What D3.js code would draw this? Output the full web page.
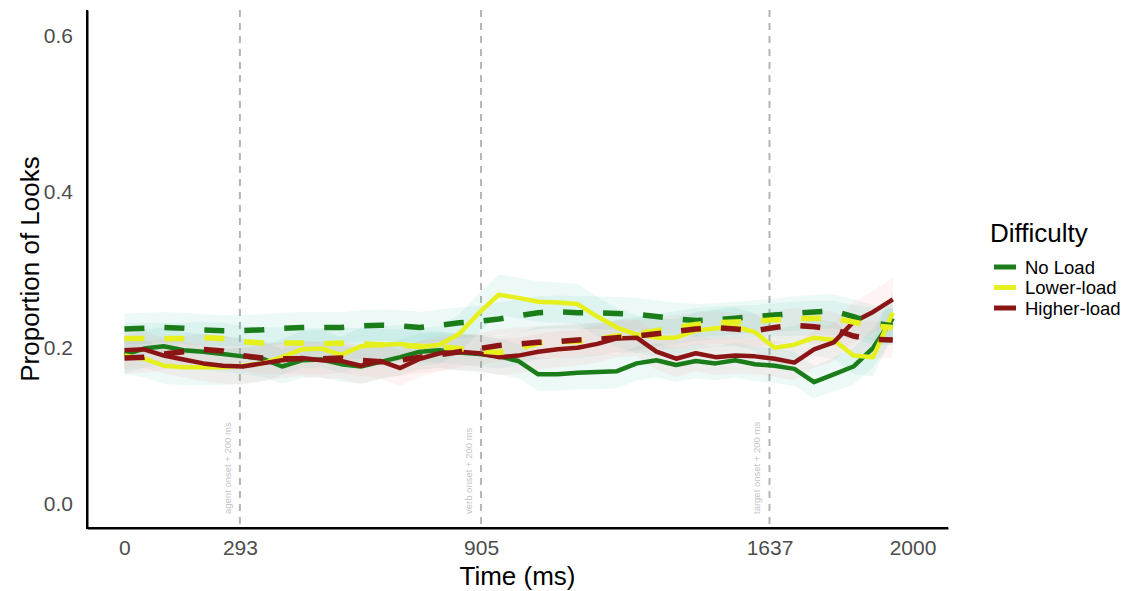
<!DOCTYPE html>
<html>
<head>
<meta charset="utf-8">
<script src="https://cdn.jsdelivr.net/npm/d3@7"></script>
<style>
  html, body { margin: 0; padding: 0; background: #ffffff; }
  svg { display: block; font-family: "Liberation Sans", Arial, sans-serif; }
</style>
</head>
<body>
<svg id="chart" width="1138" height="591"></svg>
<script>
// ---------------- DATA ----------------
const conditions = ["No Load", "Lower-load", "Higher-load"];
const times = [0,50,100,150,200,250,300,350,400,450,500,550,600,650,700,750,800,850,900,950,
               1000,1050,1100,1150,1200,1250,1300,1350,1400,1450,1500,1550,1600,1650,1700,1750,1800,1850,1900,1950];

// observed proportions (solid lines)
const obsNoLoad = [0.191,0.199,0.202,0.197,0.195,0.192,0.189,0.186,0.176,0.184,0.185,0.179,0.176,0.182,0.188,0.195,0.197,0.194,0.192,0.189,
                   0.183,0.166,0.166,0.168,0.169,0.170,0.180,0.184,0.178,0.183,0.180,0.184,0.179,0.177,0.173,0.156,0.166,0.176,0.200,0.238];
const obsLower  = [0.190,0.186,0.177,0.175,0.175,0.175,0.177,0.180,0.188,0.198,0.199,0.191,0.202,0.204,0.205,0.201,0.204,0.218,0.245,0.268,
                   0.264,0.259,0.258,0.256,0.240,0.226,0.217,0.213,0.213,0.222,0.225,0.227,0.220,0.200,0.204,0.213,0.210,0.190,0.188,0.245];
const obsHigher = [0.197,0.198,0.190,0.185,0.180,0.177,0.176,0.180,0.184,0.187,0.184,0.183,0.177,0.183,0.174,0.186,0.193,0.195,0.193,0.188,
                   0.190,0.195,0.198,0.200,0.205,0.212,0.213,0.195,0.186,0.193,0.188,0.190,0.189,0.186,0.181,0.198,0.207,0.233,0.246,0.262];

// model fits (dashed lines)
const fitNoLoad = [0.224,0.225,0.226,0.225,0.223,0.222,0.222,0.223,0.225,0.226,0.226,0.226,0.228,0.229,0.228,0.226,0.229,0.232,0.234,0.237,
                   0.241,0.245,0.246,0.245,0.245,0.244,0.243,0.240,0.237,0.235,0.236,0.238,0.240,0.242,0.244,0.246,0.247,0.240,0.232,0.228];
const fitLower  = [0.212,0.212,0.212,0.212,0.213,0.212,0.208,0.206,0.206,0.206,0.205,0.206,0.205,0.204,0.203,0.202,0.201,0.199,0.196,0.194,
                   0.199,0.206,0.208,0.208,0.211,0.215,0.218,0.222,0.226,0.230,0.232,0.233,0.234,0.236,0.237,0.238,0.238,0.233,0.228,0.226];
const fitHigher = [0.187,0.188,0.192,0.195,0.198,0.196,0.190,0.187,0.186,0.186,0.186,0.187,0.184,0.182,0.184,0.188,0.191,0.195,0.199,0.203,
                   0.205,0.207,0.208,0.210,0.211,0.213,0.215,0.218,0.221,0.224,0.226,0.224,0.222,0.226,0.229,0.227,0.224,0.215,0.211,0.210];

// standard errors (ribbon half-widths)
const seNoLoad = [0.024,0.024,0.024,0.023,0.023,0.023,0.023,0.023,0.022,0.023,0.023,0.023,0.022,0.022,0.023,0.023,0.023,0.023,0.023,0.023,
                  0.022,0.021,0.021,0.021,0.022,0.022,0.022,0.022,0.022,0.022,0.022,0.022,0.022,0.022,0.022,0.021,0.022,0.023,0.025,0.028];
const seLower  = [0.024,0.024,0.023,0.023,0.023,0.023,0.023,0.023,0.023,0.024,0.024,0.023,0.024,0.024,0.024,0.024,0.024,0.025,0.025,0.026,
                  0.026,0.026,0.026,0.026,0.025,0.025,0.024,0.024,0.024,0.024,0.024,0.025,0.024,0.024,0.024,0.024,0.024,0.024,0.025,0.028];
const seHigher = [0.024,0.024,0.023,0.023,0.023,0.023,0.023,0.023,0.023,0.023,0.023,0.023,0.023,0.023,0.023,0.023,0.023,0.023,0.023,0.023,
                  0.023,0.023,0.023,0.023,0.024,0.024,0.024,0.023,0.023,0.023,0.023,0.023,0.023,0.023,0.023,0.024,0.025,0.026,0.027,0.028];
const seFit    = [0.020,0.020,0.020,0.020,0.020,0.020,0.020,0.020,0.020,0.020,0.020,0.020,0.020,0.020,0.020,0.020,0.020,0.020,0.020,0.021,
                  0.021,0.021,0.021,0.021,0.021,0.021,0.021,0.021,0.021,0.021,0.021,0.021,0.021,0.021,0.022,0.022,0.022,0.022,0.023,0.023];

const xTicks = [0, 293, 905, 1637, 2000];
const yTicks = [0, 0.2, 0.4, 0.6];
const onsets = [293, 905, 1637];
const onsetLabels = ["agent onset + 200 ms", "verb onset + 200 ms", "target onset + 200 ms"];

const lineColors = ["#1a7d1a", "#e6f01c", "#8b1414"];
const ribbonColors = ["#3cbfa4", "#3cbfa4", "#f08a8a"];

// ---------------- DRAW ----------------
(function () {
const svg = d3.select("#chart");
const pL = 87, pR = 948, pT = 10, pB = 528;

const x = d3.scaleLinear().domain([-95, 2090]).range([pL, pR]);
const y = d3.scaleLinear().domain([-0.031, 0.633]).range([pB, pT]);

const obs = [obsNoLoad, obsLower, obsHigher];
const fits = [fitNoLoad, fitLower, fitHigher];
const ses = [seNoLoad, seLower, seHigher];

// reference lines
svg.append("g").selectAll("line").data(onsets).join("line")
  .attr("x1", d => x(d)).attr("x2", d => x(d))
  .attr("y1", pT).attr("y2", pB)
  .attr("stroke", "#b5b5b5").attr("stroke-width", 2)
  .attr("stroke-dasharray", "7,6");

svg.append("g").selectAll("text").data(onsets).join("text")
  .attr("transform", d => `translate(${x(d) - 9},${pB - 14}) rotate(-90)`)
  .attr("font-size", 9.5).attr("fill", "#c4c4c4")
  .text((d, i) => onsetLabels[i]);

// ribbons
const area = (vals, se) => d3.area()
  .x((d, i) => x(times[i]))
  .y0((d, i) => y(vals[i] - se[i]))
  .y1((d, i) => y(vals[i] + se[i]))(vals);

const ribG = svg.append("g");
conditions.forEach((c, k) => {
  ribG.append("path").attr("d", area(fits[k], seFit))
    .attr("fill", ribbonColors[k]).attr("fill-opacity", 0.09);
  ribG.append("path").attr("d", area(obs[k], ses[k]))
    .attr("fill", ribbonColors[k]).attr("fill-opacity", 0.09);
});

const line = d3.line().x((d, i) => x(times[i])).y(d => y(d));

const solidG = svg.append("g");
conditions.forEach((c, k) => {
  solidG.append("path").attr("d", line(obs[k]))
    .attr("fill", "none").attr("stroke", lineColors[k])
    .attr("stroke-width", 4.5).attr("stroke-linejoin", "round");
});
const dashG = svg.append("g");
conditions.forEach((c, k) => {
  dashG.append("path").attr("d", line(fits[k]))
    .attr("fill", "none").attr("stroke", lineColors[k])
    .attr("stroke-width", 5.5).attr("stroke-dasharray", "20,20");
});

// axes
const yAxis = svg.append("g").attr("transform", `translate(${pL},0)`)
  .call(d3.axisLeft(y).tickValues(yTicks).tickFormat(d3.format(".1f")).tickSize(0).tickSizeOuter(0).tickPadding(14));
const xAxis = svg.append("g").attr("transform", `translate(0,${pB})`)
  .call(d3.axisBottom(x).tickValues(xTicks).tickFormat(d3.format("d")).tickSize(0).tickSizeOuter(0).tickPadding(12));

[yAxis, xAxis].forEach(a => {
  a.select(".domain").attr("stroke", "#000").attr("stroke-width", 2);
  a.selectAll("text").attr("font-size", 21).attr("fill", "#4d4d4d")
    .attr("font-family", "'Liberation Sans', Arial, sans-serif");
});
svg.append("line").attr("x1", pL).attr("x2", pL).attr("y1", pT).attr("y2", pB + 1)
  .attr("stroke", "#000").attr("stroke-width", 2);
svg.append("line").attr("x1", pL - 1).attr("x2", pR).attr("y1", pB).attr("y2", pB)
  .attr("stroke", "#000").attr("stroke-width", 2);

// axis titles
svg.append("text").attr("x", (pL + pR) / 2).attr("y", 585)
  .attr("text-anchor", "middle").attr("font-size", 26).attr("fill", "#000")
  .text("Time (ms)");
svg.append("text").attr("transform", `translate(39,${(pT + pB) / 2}) rotate(-90)`)
  .attr("text-anchor", "middle").attr("font-size", 26).attr("fill", "#000")
  .text("Proportion of Looks");

// legend
const lg = svg.append("g");
lg.append("text").attr("x", 990).attr("y", 242).attr("font-size", 26).attr("fill", "#000").text("Difficulty");
const keyY = [267, 287.5, 308];
conditions.forEach((c, k) => {
  lg.append("line").attr("x1", 994).attr("x2", 1016).attr("y1", keyY[k]).attr("y2", keyY[k])
    .attr("stroke", lineColors[k]).attr("stroke-width", 5);
  lg.append("text").attr("x", 1025).attr("y", keyY[k] + 6.5).attr("font-size", 18.5).attr("fill", "#000").text(c);
});
})();
</script>
</body>
</html>
